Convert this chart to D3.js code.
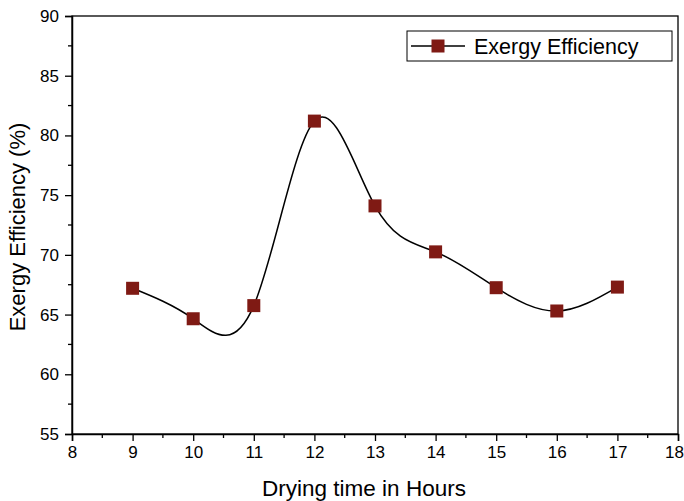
<!DOCTYPE html>
<html>
<head>
<meta charset="utf-8">
<script src="https://cdn.jsdelivr.net/npm/d3@7"></script>
<style>
  body { margin: 0; background: #fff; }
  text { font-family: "Liberation Sans", Arial, sans-serif; fill: #000; }
</style>
</head>
<body>
<div id="chart"></div>
<script>
// data
const hours = [9, 10, 11, 12, 13, 14, 15, 16, 17];
const efficiency = [67.2, 64.65, 65.75, 81.2, 74.1, 70.25, 67.25, 65.3, 67.3];
const xTicks = [8, 9, 10, 11, 12, 13, 14, 15, 16, 17, 18];
const yTicks = [55, 60, 65, 70, 75, 80, 85, 90];
const seriesName = "Exergy Efficiency";

const dimensions = {
    width: 684,
    height: 501,
    margin: { top: 16, right: 6, bottom: 67, left: 72 }
};
dimensions.boundedWidth = dimensions.width - dimensions.margin.left - dimensions.margin.right;
dimensions.boundedHeight = dimensions.height - dimensions.margin.top - dimensions.margin.bottom;

const markColor = "#7f1a14";

const xScale = d3.scaleLinear().domain([8, 18]).range([0, dimensions.boundedWidth]);
const yScale = d3.scaleLinear().domain([55, 90]).range([dimensions.boundedHeight, 0]);

const svg = d3.select("#chart").append("svg")
    .attr("width", dimensions.width)
    .attr("height", dimensions.height);

const bounds = svg.append("g")
    .attr("transform", `translate(${dimensions.margin.left}, ${dimensions.margin.top})`);

// frame (top and right)
bounds.append("rect")
    .attr("width", dimensions.boundedWidth)
    .attr("height", dimensions.boundedHeight)
    .attr("fill", "none")
    .attr("stroke", "#000")
    .attr("stroke-width", 1.3);

// minor ticks
const xMinor = d3.range(8.5, 18, 1);
const yMinor = d3.range(57.5, 90, 5);

const xAxis = bounds.append("g")
    .attr("transform", `translate(0, ${dimensions.boundedHeight})`)
    .call(d3.axisBottom(xScale).tickValues(xTicks).tickFormat(d3.format("d")).tickSizeOuter(0).tickSize(7).tickPadding(5));
xAxis.selectAll(".minor").data(xMinor).enter().append("line")
    .attr("x1", d => xScale(d)).attr("x2", d => xScale(d))
    .attr("y1", 0).attr("y2", 4).attr("stroke", "#000").attr("stroke-width", 1.3);
// last label sits at the page edge, pull it in a little so it isn't clipped
xAxis.selectAll(".tick text").filter(d => d === 18).attr("dx", -4);

const yAxis = bounds.append("g")
    .call(d3.axisLeft(yScale).tickValues(yTicks).tickSizeOuter(0).tickSize(7).tickPadding(6));
yAxis.selectAll(".minor").data(yMinor).enter().append("line")
    .attr("y1", d => yScale(d)).attr("y2", d => yScale(d))
    .attr("x1", 0).attr("x2", -4).attr("stroke", "#000").attr("stroke-width", 1.3);

[xAxis, yAxis].forEach(a => {
    a.select(".domain").attr("stroke-width", 1.5);
    a.selectAll(".tick line").attr("stroke-width", 1.3);
    a.selectAll(".tick text").attr("font-size", "17px").attr("font-family", "Liberation Sans, Arial, sans-serif");
});

// axis titles
svg.append("text")
    .attr("x", 364)
    .attr("y", 496)
    .attr("text-anchor", "middle")
    .attr("font-size", "22.5px")
    .text("Drying time in Hours");

svg.append("text")
    .attr("transform", `translate(25, 227) rotate(-90)`)
    .attr("text-anchor", "middle")
    .attr("font-size", "22px")
    .text("Exergy Efficiency (%)");

// smooth line
const points = hours.map((h, i) => [h, efficiency[i]]);
const line = d3.line()
    .x(d => xScale(d[0]))
    .y(d => yScale(d[1]))
    .curve(d3.curveNatural);

bounds.append("path")
    .datum(points)
    .attr("d", line)
    .attr("fill", "none")
    .attr("stroke", "#000")
    .attr("stroke-width", 1.5);

const markSize = 13;
bounds.selectAll(".mark")
    .data(points)
    .enter()
    .append("rect")
    .attr("class", "mark")
    .attr("x", d => xScale(d[0]) - markSize / 2)
    .attr("y", d => yScale(d[1]) - markSize / 2)
    .attr("width", markSize)
    .attr("height", markSize)
    .attr("fill", markColor);

// legend
const legend = svg.append("g").attr("transform", "translate(407, 31)");
legend.append("rect")
    .attr("width", 265)
    .attr("height", 30)
    .attr("fill", "#fff")
    .attr("stroke", "#000")
    .attr("stroke-width", 1);
legend.append("line")
    .attr("x1", 4).attr("x2", 58)
    .attr("y1", 15).attr("y2", 15)
    .attr("stroke", "#000").attr("stroke-width", 1.5);
legend.append("rect")
    .attr("x", 31 - markSize / 2)
    .attr("y", 15 - markSize / 2)
    .attr("width", markSize)
    .attr("height", markSize)
    .attr("fill", markColor);
legend.append("text")
    .attr("x", 67)
    .attr("y", 23)
    .attr("font-size", "21.5px")
    .text(seriesName);
</script>
</body>
</html>
